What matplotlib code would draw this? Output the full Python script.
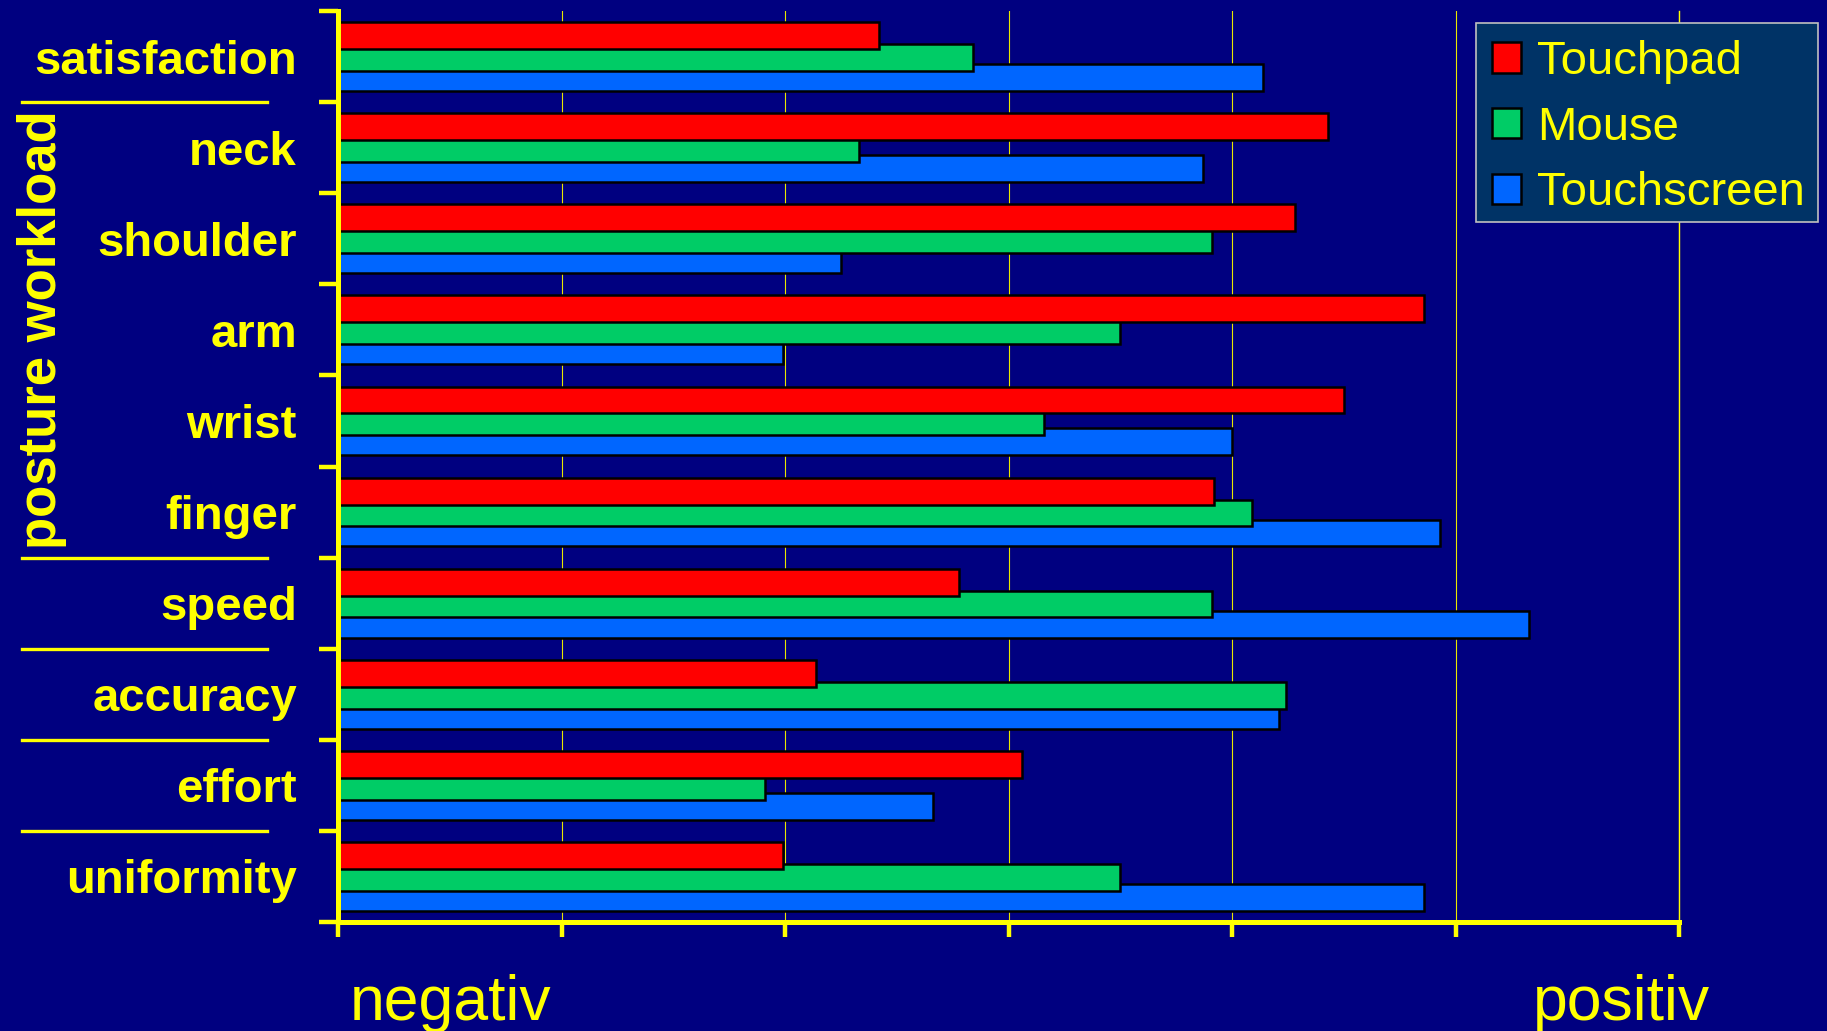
import matplotlib
matplotlib.use("Agg")
import matplotlib.pyplot as plt
import matplotlib.transforms as mtransforms
from matplotlib.patches import Rectangle
import numpy as np

plt.rcParams['font.family'] = ['Liberation Sans', 'DejaVu Sans']

# Ratings per criterion (0 = negativ, 6 = positiv)
categories = ["satisfaction", "neck", "shoulder", "arm", "wrist",
              "finger", "speed", "accuracy", "effort", "uniformity"]
touchpad = [2.42, 4.43, 4.28, 4.86, 4.50, 3.92, 2.78, 2.14, 3.06, 1.99]
mouse = [2.84, 2.33, 3.91, 3.50, 3.16, 4.09, 3.91, 4.24, 1.91, 3.50]
touchscreen = [4.14, 3.87, 2.25, 1.99, 4.00, 4.93, 5.33, 4.21, 2.66, 4.86]
series_names = ["Touchpad", "Mouse", "Touchscreen"]

group_label = "posture workload"
group_rows = (1, 6)          # neck .. finger
separators = [1, 6, 7, 8, 9]  # horizontal rules between label groups

BG = "#000080"
YEL = "#FFFF00"
colors = ["#FF0000", "#00CC66", "#0066FF"]

W, H = 1827, 1031
fig = plt.figure(figsize=(W / 100, H / 100), dpi=100, facecolor=BG)
ax = fig.add_axes([338 / W, 1 - 922 / H, (1679 - 338) / W, (922 - 11) / H])
ax.set_facecolor(BG)

n = len(categories)
band_top = np.arange(n)
offsets = [0.27, 0.51, 0.73]
bar_h = 0.295
series = [touchpad, mouse, touchscreen]
for k, (vals, col, name) in enumerate(zip(series, colors, series_names)):
    ax.barh(band_top + offsets[k], vals, height=bar_h, color=col,
            edgecolor="black", linewidth=1.8, label=name, zorder=5 - k)

ax.set_xlim(0, 6)
ax.set_ylim(n, 0)
ax.set_xticks(np.arange(0, 7))
ax.set_yticks(np.arange(0, n + 1))
ax.set_xticklabels([])
ax.set_yticklabels([])
ax.tick_params(axis="x", direction="out", length=11, width=3.2, color=YEL)
ax.tick_params(axis="y", direction="out", length=14, width=3.2, color=YEL)
for side in ("top", "right"):
    ax.spines[side].set_visible(False)
for side in ("left", "bottom"):
    ax.spines[side].set_color(YEL)
    ax.spines[side].set_linewidth(3.6)
    ax.spines[side].set_zorder(10)
ax.xaxis.grid(True, color="#E8E800", linewidth=0.8, zorder=0)
ax.axvline(6, color=YEL, linewidth=1.0, zorder=0, clip_on=False)
ax.set_axisbelow(True)

# Category labels, right-aligned left of the axis
trans = mtransforms.blended_transform_factory(fig.transFigure, ax.transData)
for i, name in enumerate(categories):
    fig.text(297 / W, 0, name, transform=trans, ha="right", va="center",
             color=YEL, fontsize=34, fontweight="bold").set_y(i + 0.555)

for b in separators:
    ax.plot([22 / W, 267 / W], [b, b], transform=trans, color=YEL,
            linewidth=2.4, clip_on=False)

fig.text(42 / W, 0, group_label, transform=trans, rotation=90,
         ha="center", va="center", color=YEL, fontsize=38,
         fontweight="bold").set_y(sum(group_rows) / 2)

fig.text(350 / W, 1 - 1020 / H, "negativ", ha="left", va="baseline",
         color=YEL, fontsize=45)
fig.text(1533 / W, 1 - 1020 / H, "positiv", ha="left", va="baseline",
         color=YEL, fontsize=45)

# Legend box drawn separately so its padding can differ per side
frame = Rectangle((1476 / W, 1 - 222 / H), (1818 - 1476) / W, (222 - 23) / H,
                  transform=fig.transFigure, facecolor="#003366",
                  edgecolor="#C0C0C0", linewidth=1.2, zorder=19,
                  clip_on=False)
ax.add_patch(frame)
leg = ax.legend(loc="upper left", bbox_to_anchor=(1492 / W, 1 - 40 / H),
                bbox_transform=fig.transFigure, borderaxespad=0,
                borderpad=0, fontsize=34, handlelength=0.62,
                handleheight=0.62, handletextpad=0.33, labelspacing=0.46,
                frameon=False)
leg.set_zorder(20)
for t in leg.get_texts():
    t.set_color(YEL)

fig.savefig("out.png", dpi=100, facecolor=BG)
